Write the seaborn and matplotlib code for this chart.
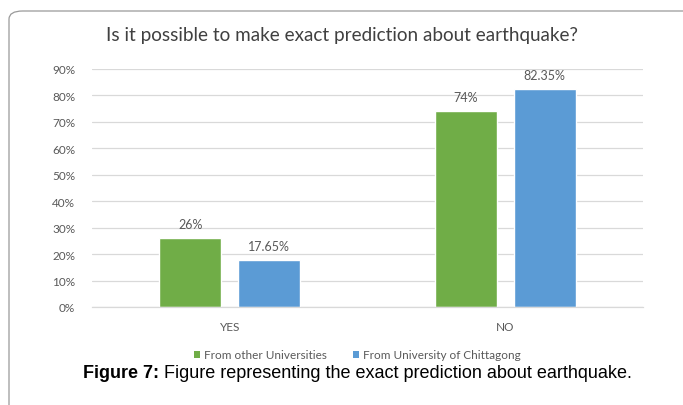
import matplotlib
matplotlib.use("Agg")
import matplotlib.pyplot as plt
import seaborn as sns
import pandas as pd
from matplotlib.patches import FancyBboxPatch, Patch

categories = ["YES", "NO"]
groups = ["From other Universities", "From University of Chittagong"]
other_univ = [26, 74]
chittagong = [17.65, 82.35]
value_labels_other = ["26%", "74%"]
value_labels_ctg = ["17.65%", "82.35%"]
yticks = [0, 10, 20, 30, 40, 50, 60, 70, 80, 90]

colors = ["#70AD47", "#5B9BD5"]
text_gray = "#595959"

df = pd.DataFrame({
    "answer": categories * 2,
    "group": [groups[0]] * 2 + [groups[1]] * 2,
    "value": other_univ + chittagong,
})

sns.set_style("white")
plt.rcParams["font.family"] = ["Lato", "DejaVu Sans"]

W, H = 683, 406
fig = plt.figure(figsize=(W / 100, H / 100), dpi=100)
fig.patch.set_facecolor("white")

# rounded frame around the chart area
frame = FancyBboxPatch((9 / W, -0.2), 1.2, 1 - 12 / H + 0.2,
                       boxstyle="round,pad=0,rounding_size=0.02",
                       transform=fig.transFigure, facecolor="none",
                       edgecolor="#9a9a9a", linewidth=0.9, clip_on=False)
fig.patches.append(frame)

ax = fig.add_axes([92 / W, 1 - 308 / H, (643 - 92) / W, (308 - 70) / H])
sns.barplot(data=df, x="answer", y="value", hue="group", order=categories,
            hue_order=groups, palette=colors, width=0.573, gap=0.216,
            saturation=1, ax=ax, legend=False)

ax.set_xlim(-0.5, 1.5)
ax.set_ylim(0, 90)
ax.set_yticks(yticks)
ax.set_yticklabels([f"{t}%" for t in yticks])
ax.yaxis.grid(True, color="#d9d9d9", linewidth=0.9)
ax.set_axisbelow(True)
for s in ["top", "right", "left"]:
    ax.spines[s].set_visible(False)
ax.spines["bottom"].set_color("#d9d9d9")
ax.spines["bottom"].set_linewidth(0.9)
ax.tick_params(axis="both", length=0, colors=text_gray, labelsize=8.5)
ax.tick_params(axis="y", pad=12)
ax.tick_params(axis="x", pad=10)
ax.set_xlabel("")
ax.set_ylabel("")

for container, labels in zip(ax.containers, [value_labels_other, value_labels_ctg]):
    ax.bar_label(container, labels=labels, padding=6, color=text_gray, fontsize=9)

fig.text(0.5, 1 - 35 / H, "Is it possible to make exact prediction about earthquake?",
         ha="center", va="center", fontsize=13.6, color="#404040")

handles = [Patch(facecolor=c, edgecolor="none") for c in colors]
fig.legend(handles, groups, loc="center", bbox_to_anchor=(0.523, 1 - 356 / H),
           ncol=2, frameon=False, fontsize=8.5, labelcolor=text_gray,
           handlelength=0.55, handleheight=0.55, handletextpad=0.3,
           columnspacing=2.2)

# caption: bold prefix followed by regular text, centred as one line
cap_y = 1 - 374 / H
cap_font = dict(fontsize=13, family=["Liberation Sans", "DejaVu Sans"], va="center")
full = fig.text(0.52, cap_y, "Figure 7: Figure representing the exact prediction about earthquake.",
                ha="center", color="white", **cap_font)
fig.canvas.draw()
bb = full.get_window_extent()
full.remove()
b = fig.text(bb.x0 / fig.bbox.width, cap_y, "Figure 7:", ha="left",
             fontweight="bold", color="black", **cap_font)
fig.canvas.draw()
bb2 = b.get_window_extent()
fig.text(bb2.x1 / fig.bbox.width, cap_y,
         " Figure representing the exact prediction about earthquake.",
         ha="left", color="black", **cap_font)

fig.savefig("out.png", dpi=100, facecolor="white")
